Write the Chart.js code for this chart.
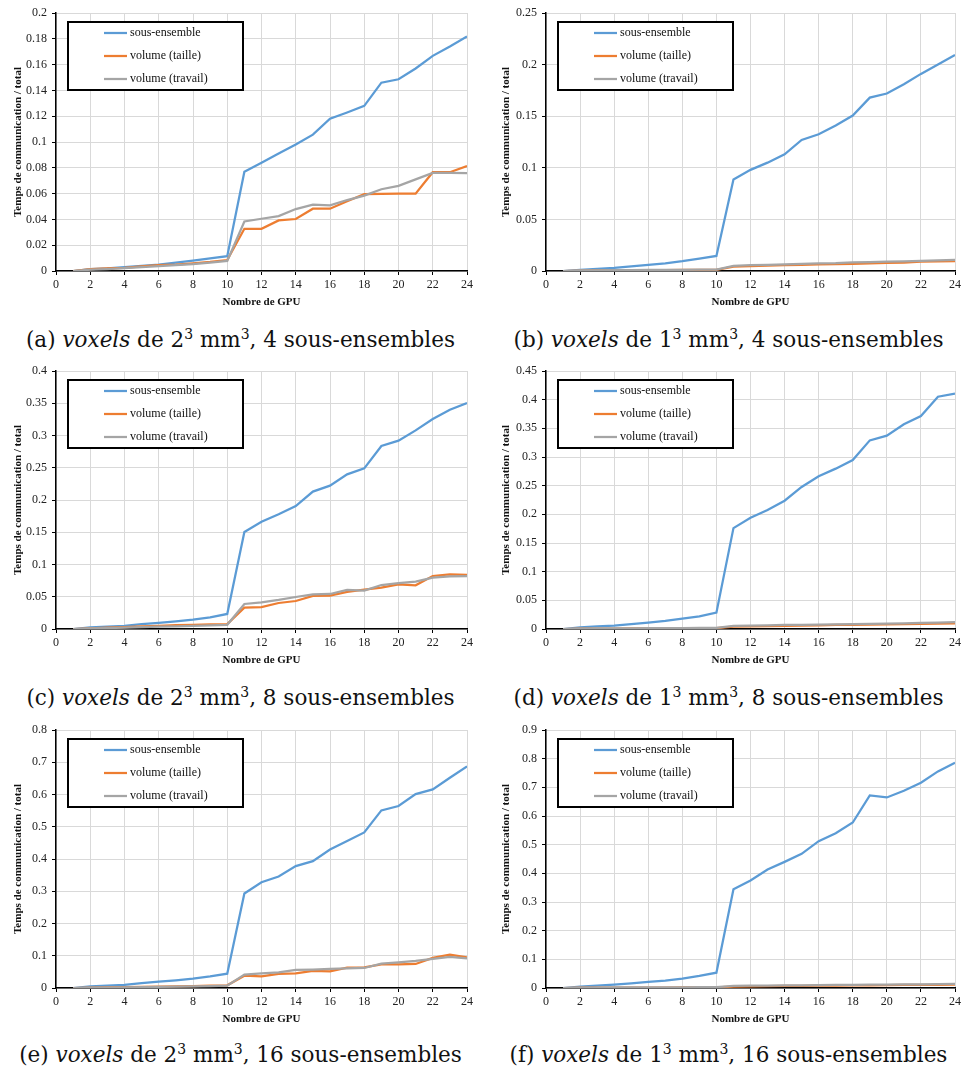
<!DOCTYPE html>
<html>
<head>
<meta charset="utf-8">
<script src="https://cdn.jsdelivr.net/npm/chart.js@4.4.1/dist/chart.umd.min.js"></script>
<style>
    body { margin: 0; width: 962px; height: 1070px; background: #fff; position: relative; overflow: hidden; }
    canvas { position: absolute; }
    .cap { position: absolute; width: 481px; text-align: center; font-family: "DejaVu Serif", "Liberation Serif", serif; font-size: 21.5px; line-height: 24px; color: #111; white-space: nowrap; }
    .cap sup { font-size: 14px; line-height: 0; }
</style>
</head>
<body>
<canvas id="ca" width="480" height="309" style="left:0;top:0"></canvas>
<canvas id="cb" width="482" height="309" style="left:482px;top:0"></canvas>
<canvas id="cc" width="480" height="309" style="left:0;top:358px"></canvas>
<canvas id="cd" width="482" height="309" style="left:482px;top:358px"></canvas>
<canvas id="ce" width="480" height="309" style="left:0;top:717px"></canvas>
<canvas id="cf" width="482" height="309" style="left:482px;top:717px"></canvas>

<div class="cap" style="left:0;top:328px">(a) <i>voxels</i> de 2<sup>3</sup> mm<sup>3</sup>, 4 sous-ensembles</div>
<div class="cap" style="left:488px;top:328px">(b) <i>voxels</i> de 1<sup>3</sup> mm<sup>3</sup>, 4 sous-ensembles</div>
<div class="cap" style="left:0;top:686px">(c) <i>voxels</i> de 2<sup>3</sup> mm<sup>3</sup>, 8 sous-ensembles</div>
<div class="cap" style="left:488px;top:686px">(d) <i>voxels</i> de 1<sup>3</sup> mm<sup>3</sup>, 8 sous-ensembles</div>
<div class="cap" style="left:0;top:1043px">(e) <i>voxels</i> de 2<sup>3</sup> mm<sup>3</sup>, 16 sous-ensembles</div>
<div class="cap" style="left:488px;top:1043px">(f) <i>voxels</i> de 1<sup>3</sup> mm<sup>3</sup>, 16 sous-ensembles</div>

<script>
// nombre de GPU
var gpus = [1, 2, 3, 4, 5, 6, 7, 8, 9, 10, 11, 12, 13, 14, 15, 16, 17, 18, 19, 20, 21, 22, 23, 24];

var seriesNames = ["sous-ensemble", "volume (taille)", "volume (travail)"];

// (a) 2mm, 4 sous-ensembles
var sousA = [0, 0.0015, 0.002, 0.003, 0.004, 0.005, 0.0065, 0.008, 0.0097, 0.0115, 0.077, 0.084, 0.091, 0.098, 0.1057, 0.118, 0.1229, 0.128, 0.146, 0.1486, 0.157, 0.1668, 0.174, 0.1818];
var tailleA = [0, 0.0015, 0.002, 0.0025, 0.0035, 0.0045, 0.005, 0.006, 0.007, 0.0085, 0.0327, 0.0327, 0.0392, 0.0403, 0.0483, 0.0483, 0.054, 0.0595, 0.0597, 0.06, 0.06, 0.0766, 0.0766, 0.0813];
var travailA = [0, 0.001, 0.0015, 0.0022, 0.003, 0.0038, 0.0045, 0.0053, 0.0065, 0.0078, 0.0384, 0.0405, 0.0426, 0.048, 0.0514, 0.0509, 0.055, 0.0584, 0.0634, 0.066, 0.071, 0.076, 0.076, 0.0758];

// (b) 1mm, 4 sous-ensembles
var sousB = [0, 0.001, 0.002, 0.003, 0.0045, 0.006, 0.0075, 0.0095, 0.012, 0.0146, 0.0886, 0.098, 0.105, 0.113, 0.127, 0.1325, 0.141, 0.1506, 0.168, 0.172, 0.181, 0.191, 0.2, 0.2094];
var tailleB = [0, 0.0003, 0.0005, 0.0006, 0.0007, 0.0008, 0.0009, 0.001, 0.001, 0.0011, 0.0042, 0.0048, 0.0052, 0.0057, 0.006, 0.0063, 0.0066, 0.007, 0.0075, 0.0078, 0.0082, 0.009, 0.0093, 0.0095];
var travailB = [0, 0.0005, 0.0007, 0.0008, 0.0009, 0.001, 0.0011, 0.0012, 0.0013, 0.0014, 0.005, 0.0057, 0.006, 0.0065, 0.007, 0.0073, 0.0076, 0.0083, 0.0086, 0.009, 0.0093, 0.0097, 0.0102, 0.0108];

// (c) 2mm, 8 sous-ensembles
var sousC = [0, 0.0025, 0.0035, 0.005, 0.0075, 0.0095, 0.012, 0.0145, 0.018, 0.0233, 0.1504, 0.1664, 0.178, 0.1907, 0.213, 0.2222, 0.2398, 0.249, 0.2837, 0.292, 0.308, 0.3256, 0.34, 0.3504];
var tailleC = [0, 0.001, 0.002, 0.003, 0.004, 0.005, 0.006, 0.0065, 0.007, 0.0075, 0.033, 0.0338, 0.0403, 0.0434, 0.0512, 0.0517, 0.0574, 0.061, 0.064, 0.0693, 0.0677, 0.0822, 0.0848, 0.084];
var travailC = [0, 0.0008, 0.0015, 0.002, 0.0028, 0.0035, 0.0042, 0.005, 0.0057, 0.0065, 0.0388, 0.0413, 0.045, 0.0496, 0.0537, 0.0543, 0.0605, 0.0594, 0.0682, 0.0713, 0.0734, 0.0796, 0.0815, 0.082];

// (d) 1mm, 8 sous-ensembles
var sousD = [0, 0.003, 0.0045, 0.006, 0.0085, 0.011, 0.014, 0.018, 0.022, 0.0285, 0.176, 0.194, 0.2076, 0.2238, 0.2477, 0.2663, 0.2797, 0.2948, 0.329, 0.3372, 0.357, 0.3715, 0.4052, 0.4105];
var tailleD = [0, 0.0005, 0.0007, 0.0008, 0.0009, 0.001, 0.0011, 0.0012, 0.0013, 0.0015, 0.004, 0.0045, 0.005, 0.0055, 0.006, 0.0065, 0.007, 0.0072, 0.0075, 0.008, 0.0085, 0.009, 0.0095, 0.0098];
var travailD = [0, 0.0008, 0.001, 0.0012, 0.0013, 0.0015, 0.0016, 0.0017, 0.0018, 0.002, 0.0055, 0.006, 0.0065, 0.007, 0.0073, 0.0077, 0.008, 0.0085, 0.009, 0.0095, 0.01, 0.0105, 0.011, 0.0118];

// (e) 2mm, 16 sous-ensembles
var sousE = [0, 0.005, 0.0075, 0.01, 0.015, 0.02, 0.024, 0.029, 0.036, 0.0445, 0.293, 0.328, 0.3457, 0.3778, 0.3933, 0.4296, 0.4555, 0.4824, 0.5507, 0.5642, 0.6014, 0.616, 0.652, 0.6874];
var tailleE = [0, 0.001, 0.002, 0.003, 0.0035, 0.004, 0.005, 0.006, 0.007, 0.0083, 0.0383, 0.0362, 0.0435, 0.0455, 0.0528, 0.0518, 0.0631, 0.0642, 0.0735, 0.0735, 0.0745, 0.0932, 0.1035, 0.0952];
var travailE = [0, 0.001, 0.0015, 0.002, 0.0028, 0.0035, 0.004, 0.0048, 0.0055, 0.007, 0.0414, 0.0455, 0.0487, 0.0559, 0.0569, 0.059, 0.0605, 0.0621, 0.0756, 0.0797, 0.0839, 0.09, 0.0963, 0.092];

// (f) 1mm, 16 sous-ensembles
var sousF = [0, 0.005, 0.008, 0.012, 0.016, 0.021, 0.026, 0.033, 0.042, 0.0535, 0.3446, 0.375, 0.4133, 0.44, 0.468, 0.5122, 0.54, 0.5774, 0.6717, 0.6647, 0.688, 0.716, 0.7555, 0.7858];
var tailleF = [0, 0.001, 0.0012, 0.0014, 0.0015, 0.0016, 0.0017, 0.0018, 0.0019, 0.002, 0.005, 0.006, 0.0065, 0.007, 0.0075, 0.008, 0.0085, 0.009, 0.0095, 0.01, 0.0105, 0.011, 0.0112, 0.0115];
var travailF = [0, 0.0015, 0.0017, 0.0019, 0.002, 0.0022, 0.0024, 0.0026, 0.0028, 0.003, 0.007, 0.008, 0.0085, 0.009, 0.0095, 0.01, 0.0105, 0.011, 0.0115, 0.012, 0.0125, 0.013, 0.0135, 0.014];

// y axis range / step per panel
var yMax = [0.2, 0.25, 0.4, 0.45, 0.8, 0.9];
var yStep = [0.02, 0.05, 0.05, 0.05, 0.1, 0.1];

var colors = ["#5b9bd5", "#ed7d31", "#a5a5a5"];

// legend drawn as a framed box inside the plot, like the excel one
var boxLegend = {
    id: 'boxLegend',
    afterDraw: function (chart) {
        var ctx = chart.ctx, area = chart.chartArea;
        var x = area.left + 12, y = area.top + 9;
        ctx.save();
        ctx.fillStyle = '#fff';
        ctx.fillRect(x, y, 175, 68);
        ctx.strokeStyle = '#000';
        ctx.lineWidth = 2;
        ctx.strokeRect(x, y, 175, 68);
        ctx.font = '12px "Liberation Serif"';
        ctx.textBaseline = 'middle';
        chart.data.datasets.forEach(function (ds, i) {
            var ly = y + 11 + i * 23;
            ctx.strokeStyle = ds.borderColor;
            ctx.lineWidth = 2.25;
            ctx.beginPath();
            ctx.moveTo(x + 36, ly);
            ctx.lineTo(x + 59, ly);
            ctx.stroke();
            ctx.fillStyle = '#111';
            ctx.fillText(ds.label, x + 62, ly);
        });
        ctx.restore();
    }
};

function pts(vals) {
    return gpus.map(function (g, i) { return { x: g, y: vals[i] }; });
}

function drawPanel(id, idx, series, right) {
    var datasets = series.map(function (vals, i) {
        return {
            label: seriesNames[i],
            data: pts(vals),
            borderColor: colors[i],
            backgroundColor: colors[i],
            borderWidth: 2.25,
            pointRadius: 0,
            tension: 0,
            order: [2, 1, 0][i]
        };
    });

    new Chart(document.getElementById(id), {
        type: 'line',
        data: { datasets: datasets },
        plugins: [boxLegend],
        options: {
            responsive: false,
            animation: false,
            devicePixelRatio: 1,
            layout: { padding: { left: 0, right: right ? 7 : 13, top: 13, bottom: 0 } },
            plugins: { legend: { display: false }, tooltip: { enabled: false } },
            scales: {
                x: {
                    type: 'linear',
                    min: 0,
                    max: 24,
                    ticks: { stepSize: 2, color: '#222', padding: 3, maxRotation: 0, font: { family: 'Liberation Serif', size: 12 } },
                    grid: { color: '#d9d9d9', tickColor: '#000', tickLength: 4 },
                    border: { color: '#000', width: 1.5 },
                    title: { display: true, text: 'Nombre de GPU', color: '#111', padding: 0, font: { family: 'Liberation Serif', size: 11, weight: 'bold' } },
                    afterFit: function (s) { s.height = 38; }
                },
                y: {
                    min: 0,
                    max: yMax[idx],
                    ticks: {
                        stepSize: yStep[idx],
                        color: '#222',
                        padding: 5,
                        font: { family: 'Liberation Serif', size: 12 },
                        callback: function (v) { return String(+v.toFixed(3)); }
                    },
                    grid: { color: '#d9d9d9', tickColor: '#000', tickLength: 4 },
                    border: { color: '#000', width: 1.5 },
                    title: { display: true, text: 'Temps de communication / total', color: '#111', padding: { top: right ? 18 : 12, bottom: 0 }, font: { family: 'Liberation Serif', size: 11, weight: 'bold' } },
                    afterFit: function (s) { s.width = right ? 64 : 56; }
                }
            }
        }
    });
}

drawPanel('ca', 0, [sousA, tailleA, travailA], false);
drawPanel('cb', 1, [sousB, tailleB, travailB], true);
drawPanel('cc', 2, [sousC, tailleC, travailC], false);
drawPanel('cd', 3, [sousD, tailleD, travailD], true);
drawPanel('ce', 4, [sousE, tailleE, travailE], false);
drawPanel('cf', 5, [sousF, tailleF, travailF], true);
</script>
</body>
</html>
